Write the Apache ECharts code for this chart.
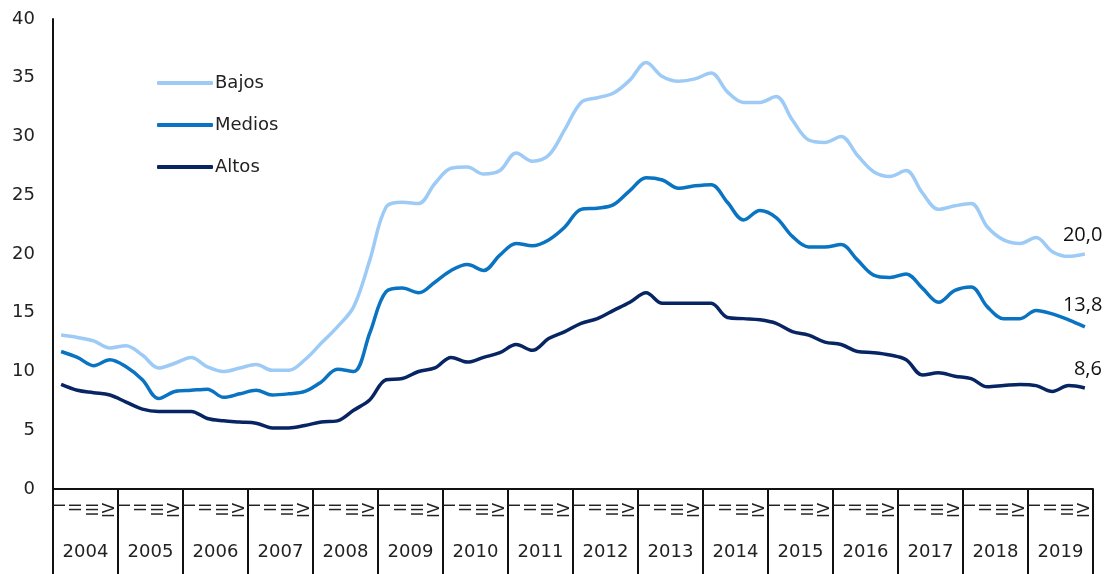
<!DOCTYPE html>
<html>
<head>
<meta charset="utf-8">
<script src="https://cdn.jsdelivr.net/npm/echarts@6/dist/echarts.min.js"></script>
<style>
  html, body { margin: 0; padding: 0; background: #fff; }
  #myChart { width: 1110px; height: 574px; }
</style>
</head>
<body>
<div id="myChart"></div>
<script>
  var years = ['2004','2005','2006','2007','2008','2009','2010','2011','2012','2013','2014','2015','2016','2017','2018','2019'];
  var quarters = ['I','II','III','IV'];

  var bajos = [13.1,12.9,12.6,12.0, 12.2,11.4,10.3,10.7, 11.2,10.4,10.0,10.3, 10.6,10.1,10.1,11.0,
               12.4,13.8,15.5,19.5, 24.0,24.4,24.3,26.0, 27.3,27.4,26.8,27.1, 28.6,27.9,28.4,30.6,
               32.9,33.3,33.7,34.8, 36.3,35.1,34.7,34.9, 35.4,33.8,32.9,32.9, 33.4,31.4,29.7,29.5,
               30.0,28.4,27.0,26.6, 27.1,25.2,23.8,24.1, 24.3,22.3,21.2,20.9, 21.4,20.2,19.8,20.0];
  var medios = [11.7,11.2,10.5,11.0, 10.4,9.3,7.7,8.3, 8.4,8.5,7.8,8.1, 8.4,8.0,8.1,8.3,
                9.1,10.2,10.0,13.3, 16.8,17.1,16.7,17.6, 18.6,19.1,18.6,19.9, 20.9,20.7,21.2,22.3,
                23.8,23.9,24.2,25.4, 26.5,26.3,25.6,25.8, 25.9,24.4,22.9,23.7, 23.1,21.5,20.6,20.6,
                20.8,19.5,18.2,18.0, 18.3,17.1,15.9,16.9, 17.2,15.5,14.5,14.5, 15.2,14.9,14.4,13.8];
  var altos = [8.9,8.4,8.2,8.0, 7.4,6.8,6.6,6.6, 6.6,6.0,5.8,5.7, 5.6,5.2,5.2,5.4,
               5.7,5.8,6.7,7.6, 9.3,9.4,10.0,10.3, 11.2,10.8,11.2,11.6, 12.3,11.8,12.8,13.4,
               14.1,14.5,15.2,15.9, 16.7,15.8,15.8,15.8, 15.8,14.6,14.5,14.4, 14.1,13.4,13.1,12.5,
               12.3,11.7,11.6,11.4, 11.0,9.7,9.9,9.6, 9.4,8.7,8.8,8.9, 8.8,8.3,8.8,8.6];

  var seriesNames = ['Bajos','Medios','Altos'];
  var colors = ['#9DCBF6','#0A74C2','#082563'];
  // shift of the end value label relative to the last point
  var endShift = [[-30, -19], [-30, -22], [-19, -19]];

  var quarterCats = [];
  years.forEach(function (y) {
    quarters.forEach(function (q) { quarterCats.push(y + '-' + q); });
  });

  var myChart = echarts.init(document.getElementById('myChart'));
  var txtFont = 'DejaVu Sans';

  var option = {
    animation: false,
    color: colors,
    grid: { left: 53, right: 17, top: 19, bottom: 85 },
    legend: {
      orient: 'vertical',
      left: 152,
      top: 69,
      itemGap: 24,
      itemWidth: 56,
      itemHeight: 4,
      icon: 'roundRect',
      data: seriesNames,
      textStyle: { fontFamily: txtFont, fontSize: 18, color: '#222', padding: [0, 0, 0, -3] }
    },
    xAxis: [
      {
        type: 'category',
        data: quarterCats,
        boundaryGap: true,
        axisLine: { show: false },
        axisTick: { show: false },
        axisLabel: {
          interval: 0,
          rotate: 90,
          margin: 14,
          fontFamily: 'DejaVu Sans',
          fontSize: 15,
          color: '#222',
          formatter: function (v) { return v.split('-')[1]; }
        }
      },
      {
        type: 'category',
        data: years,
        position: 'bottom',
        boundaryGap: true,
        axisLine: { show: true, lineStyle: { color: '#111', width: 2 } },
        axisTick: { show: true, interval: 0, length: 86, lineStyle: { color: '#111', width: 2 } },
        axisLabel: { interval: 0, margin: 54, fontFamily: txtFont, fontSize: 18, color: '#222' }
      }
    ],
    yAxis: {
      type: 'value',
      min: 0,
      max: 40,
      interval: 5,
      axisLine: { show: true, lineStyle: { color: '#111', width: 2 } },
      axisTick: { show: false },
      splitLine: { show: false },
      axisLabel: { margin: 18, fontFamily: txtFont, fontSize: 18, color: '#222' }
    },
    series: [bajos, medios, altos].map(function (arr, k) {
      return {
        name: seriesNames[k],
        type: 'line',
        xAxisIndex: 0,
        data: arr,
        smooth: 0.35,
        symbol: 'none',
        lineStyle: { width: 3.5, color: colors[k] },
        endLabel: {
          show: true,
          offset: endShift[k],
          fontFamily: 'Open Sans',
          fontSize: 20,
          color: '#111',
          formatter: function (p) { return p.value.toFixed(1).replace('.', ','); }
        }
      };
    })
  };
  myChart.setOption(option, true);
</script>
</body>
</html>
